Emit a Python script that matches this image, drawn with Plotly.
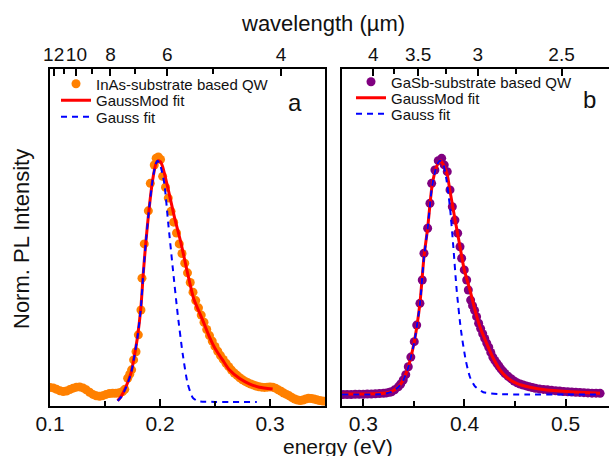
import plotly.graph_objects as go

# ---------------- Panel a: InAs-substrate based QW ----------------
energy_a = [0.100, 0.103, 0.106, 0.109, 0.112, 0.115, 0.118, 0.121, 0.124, 0.127,
            0.130, 0.133, 0.136, 0.139, 0.142, 0.145, 0.148, 0.151, 0.154, 0.157,
            0.160, 0.163, 0.166, 0.168, 0.1706, 0.1725, 0.1742, 0.176, 0.1782, 0.1803,
            0.1827, 0.1836, 0.1857, 0.1894, 0.1912, 0.1948, 0.1965, 0.1985, 0.2005, 0.2024,
            0.205, 0.2075, 0.210, 0.2124, 0.215, 0.2175, 0.220, 0.2225, 0.225, 0.2275,
            0.230, 0.2325, 0.235, 0.2375, 0.240, 0.2425, 0.245, 0.2475, 0.250, 0.2525,
            0.255, 0.2575, 0.260, 0.2625, 0.265, 0.2675, 0.270, 0.2725, 0.275, 0.2775,
            0.280, 0.2825, 0.285, 0.2875, 0.290, 0.2925, 0.295, 0.2975, 0.300, 0.3025,
            0.305, 0.3075, 0.310, 0.3125, 0.315, 0.3175, 0.320, 0.3225, 0.325, 0.3275,
            0.330, 0.3325, 0.335, 0.3375, 0.340, 0.3425, 0.345, 0.3475, 0.350]
pl_a = [0.060, 0.058, 0.052, 0.046, 0.043, 0.045, 0.051, 0.057, 0.061, 0.062,
        0.058, 0.050, 0.040, 0.031, 0.025, 0.023, 0.026, 0.031, 0.035, 0.036,
        0.036, 0.038, 0.043, 0.052, 0.098, 0.115, 0.133, 0.174, 0.208, 0.278,
        0.381, 0.513, 0.655, 0.792, 0.906, 0.982, 1.010, 1.015, 1.005, 0.935,
        0.890, 0.845, 0.790, 0.745, 0.700, 0.655, 0.615, 0.575, 0.535, 0.495,
        0.455, 0.420, 0.390, 0.360, 0.330, 0.300, 0.275, 0.252, 0.230, 0.210,
        0.192, 0.176, 0.160, 0.146, 0.132, 0.120, 0.110, 0.100, 0.092, 0.085,
        0.079, 0.074, 0.070, 0.066, 0.063, 0.061, 0.060, 0.061, 0.062, 0.061,
        0.057, 0.050, 0.044, 0.037, 0.031, 0.025, 0.018, 0.012, 0.008, 0.006,
        0.008, 0.012, 0.015, 0.014, 0.012, 0.009, 0.006, 0.004, 0.003]

gmod_e_a = [0.1615, 0.1650, 0.1691, 0.1736, 0.1766, 0.1796, 0.1827, 0.1848, 0.1873, 0.1903,
            0.1933, 0.1964, 0.1985, 0.2005, 0.2024, 0.2075, 0.2130, 0.2191, 0.2251, 0.2305,
            0.2387, 0.2448, 0.2509, 0.2569, 0.2630, 0.2721, 0.2812, 0.2903, 0.3024]
gmod_i_a = [0.005, 0.025, 0.063, 0.119, 0.188, 0.271, 0.395, 0.533, 0.671, 0.809,
            0.920, 0.989, 1.000, 0.995, 0.975, 0.880, 0.768, 0.658, 0.533, 0.430,
            0.340, 0.271, 0.215, 0.174, 0.133, 0.098, 0.075, 0.061, 0.053]

gauss_e_a = [0.1615, 0.1650, 0.1691, 0.1736, 0.1766, 0.1796, 0.1827, 0.1848, 0.1873, 0.1903,
             0.1933, 0.1960, 0.1978, 0.2000, 0.2039, 0.2075, 0.2115, 0.2160, 0.2206, 0.2251,
             0.2297, 0.2340, 0.2387, 0.2500, 0.2650, 0.2880]
gauss_i_a = [0.004, 0.022, 0.060, 0.117, 0.186, 0.270, 0.395, 0.533, 0.671, 0.809,
             0.920, 0.985, 1.000, 0.985, 0.906, 0.740, 0.560, 0.367, 0.200, 0.077,
             0.018, 0.004, 0.001, 0.000, 0.000, 0.000]

# ---------------- Panel b: GaSb-substrate based QW ----------------
energy_b = [0.280, 0.284, 0.288, 0.292, 0.296, 0.300, 0.304, 0.308, 0.312, 0.316,
            0.320, 0.323, 0.326, 0.328, 0.331, 0.3346, 0.337, 0.3395, 0.342, 0.3445,
            0.347, 0.3504, 0.3528, 0.356, 0.3583, 0.360, 0.3636, 0.3659, 0.3676, 0.3708,
            0.3741, 0.3775, 0.380, 0.383, 0.3857, 0.388, 0.3906, 0.3933, 0.3956, 0.3972,
            0.3998, 0.4022, 0.4038, 0.4061, 0.408, 0.410, 0.412, 0.414, 0.416, 0.418,
            0.420, 0.422, 0.424, 0.426, 0.428, 0.430, 0.432, 0.434, 0.436, 0.438,
            0.440, 0.443, 0.446, 0.449, 0.452, 0.455, 0.458, 0.461, 0.464, 0.467,
            0.470, 0.474, 0.478, 0.482, 0.486, 0.490, 0.494, 0.498, 0.502, 0.506,
            0.510, 0.514, 0.518, 0.522, 0.526, 0.530, 0.534]
pl_b = [0.000, 0.000, 0.000, 0.001, 0.001, 0.001, 0.002, 0.002, 0.003, 0.004,
        0.005, 0.007, 0.010, 0.012, 0.020, 0.033, 0.045, 0.062, 0.085, 0.119,
        0.160, 0.226, 0.297, 0.390, 0.490, 0.604, 0.711, 0.818, 0.903, 0.960,
        1.000, 1.010, 0.982, 0.953, 0.875, 0.803, 0.746, 0.690, 0.632, 0.583,
        0.533, 0.490, 0.447, 0.404, 0.380, 0.360, 0.333, 0.305, 0.282, 0.260,
        0.240, 0.220, 0.202, 0.180, 0.160, 0.146, 0.134, 0.122, 0.110, 0.100,
        0.090, 0.078, 0.068, 0.058, 0.050, 0.045, 0.041, 0.037, 0.033, 0.030,
        0.027, 0.024, 0.022, 0.020, 0.018, 0.016, 0.015, 0.013, 0.012, 0.011,
        0.010, 0.009, 0.008, 0.007, 0.006, 0.006, 0.005]

gmod_e_b = [0.2790, 0.3000, 0.3150, 0.3220, 0.3280, 0.3346, 0.3395, 0.3445, 0.3504, 0.3560,
            0.3600, 0.3636, 0.3676, 0.3710, 0.3741, 0.3765, 0.3800, 0.3830, 0.3857, 0.3906,
            0.3956, 0.3998, 0.4054, 0.4104, 0.4153, 0.4219, 0.4285, 0.4351, 0.4417, 0.4516,
            0.4647, 0.4812, 0.5042, 0.5339]
gmod_i_b = [0.002, 0.002, 0.004, 0.007, 0.013, 0.033, 0.062, 0.119, 0.226, 0.390,
            0.590, 0.711, 0.880, 0.955, 0.990, 1.000, 0.975, 0.940, 0.870, 0.750,
            0.632, 0.533, 0.447, 0.361, 0.290, 0.219, 0.155, 0.105, 0.074, 0.048,
            0.031, 0.019, 0.012, 0.005]

gauss_e_b = [0.2790, 0.3150, 0.3220, 0.3280, 0.3346, 0.3395, 0.3445, 0.3504, 0.3560, 0.3600,
             0.3636, 0.3676, 0.3710, 0.3741, 0.3760, 0.3790, 0.3820, 0.3857, 0.3890, 0.3923,
             0.3965, 0.4012, 0.4054, 0.4104, 0.4186, 0.4350, 0.4600, 0.5000, 0.5339]
gauss_i_b = [0.000, 0.001, 0.004, 0.011, 0.031, 0.060, 0.117, 0.224, 0.388, 0.588,
             0.709, 0.878, 0.955, 0.992, 1.000, 0.985, 0.925, 0.800, 0.632, 0.447,
             0.276, 0.148, 0.075, 0.035, 0.010, 0.002, 0.000, 0.000, 0.000]

# ---------------- Axis ticks ----------------
energy_ticks_a = [0.1, 0.2, 0.3]
energy_minor_a = [0.15, 0.25]
energy_ticks_b = [0.3, 0.4, 0.5]
energy_minor_b = [0.35, 0.45]
wl_major_a = [12, 10, 8, 6, 4]
wl_minor_a = [11, 9, 7, 5]
wl_major_b = [4, 3.5, 3, 2.5]
wl_minor_b = [3.75, 3.25, 2.75]
HC = 1.2398  # eV*um

FONT = "Liberation Sans, Arial, sans-serif"
INK = "#111111"
ORANGE = "#FF8000"
PURPLE = "#800080"
RED = "#FF0000"
BLUE = "#0000FF"

W, H = 609, 456
L, R, T, B = 50, 0, 69, 50
pw = W - L - R
ph = H - T - B


def px_x(p):
    return (p - L) / pw


def px_y(p):
    return (H - B - p) / ph


fig = go.Figure()

# panel a
fig.add_trace(go.Scatter(x=energy_a, y=pl_a, mode="markers", name="InAs-substrate based QW",
                         marker=dict(color=ORANGE, size=9), xaxis="x", yaxis="y", legend="legend"))
fig.add_trace(go.Scatter(x=gmod_e_a, y=gmod_i_a, mode="lines", name="GaussMod fit",
                         line=dict(color=RED, width=3, shape="spline", smoothing=0.6),
                         xaxis="x", yaxis="y", legend="legend2"))
fig.add_trace(go.Scatter(x=gauss_e_a, y=gauss_i_a, mode="lines", name="Gauss fit",
                         line=dict(color=BLUE, width=2, dash="6px,5px", shape="spline", smoothing=0.6),
                         xaxis="x", yaxis="y", legend="legend3"))
# panel b
fig.add_trace(go.Scatter(x=energy_b, y=pl_b, mode="markers", name="GaSb-substrate based QW",
                         marker=dict(color=PURPLE, size=9), xaxis="x2", yaxis="y2", legend="legend4"))
fig.add_trace(go.Scatter(x=gmod_e_b, y=gmod_i_b, mode="lines", name="GaussMod fit",
                         line=dict(color=RED, width=3, shape="spline", smoothing=0.6),
                         xaxis="x2", yaxis="y2", legend="legend5"))
fig.add_trace(go.Scatter(x=gauss_e_b, y=gauss_i_b, mode="lines", name="Gauss fit",
                         line=dict(color=BLUE, width=2, dash="6px,5px", shape="spline", smoothing=0.6),
                         xaxis="x2", yaxis="y2", legend="legend6"))
# invisible carriers so the top wavelength axes are drawn
fig.add_trace(go.Scatter(x=energy_a, y=pl_a, mode="markers", marker=dict(opacity=0),
                         xaxis="x3", yaxis="y", showlegend=False, hoverinfo="skip"))
fig.add_trace(go.Scatter(x=energy_b, y=pl_b, mode="markers", marker=dict(opacity=0),
                         xaxis="x4", yaxis="y2", showlegend=False, hoverinfo="skip"))

tickfont = dict(family=FONT, size=21, color=INK)
toptickfont = dict(family=FONT, size=19, color=INK)
common_x = dict(showgrid=False, zeroline=False, showline=True, linecolor="black", linewidth=2,
                mirror=True, ticks="inside", ticklen=7, tickwidth=1.5, tickcolor="black",
                tickfont=tickfont, automargin=False, tickangle=0, ticklabelstandoff=-2)
common_y = dict(showgrid=False, zeroline=False, showline=True, linecolor="black", linewidth=2,
                showticklabels=False, ticks="", domain=[0, 1], automargin=False)
top_x = dict(showgrid=False, zeroline=False, showline=False, ticks="inside", ticklen=7,
             tickwidth=1.5, tickcolor="black", tickfont=toptickfont, automargin=False,
             side="top", tickangle=0, ticklabelstandoff=3)

legend_font = dict(family=FONT, size=15, color=INK)


def leg(xp, yp):
    return dict(x=px_x(xp), y=px_y(yp), xanchor="left", yanchor="middle",
                bgcolor="rgba(0,0,0,0)", borderwidth=0, font=legend_font)


fig.update_layout(
    width=W, height=H, margin=dict(l=L, r=R, t=T, b=B, autoexpand=False),
    plot_bgcolor="white", paper_bgcolor="white",
    font=dict(family=FONT, color=INK),
    xaxis=dict(domain=[0, px_x(325)], range=[0.1, 0.35], anchor="y",
               tickvals=energy_ticks_a, ticktext=[f"{v:.1f}" for v in energy_ticks_a],
               minor=dict(tickvals=energy_minor_a, ticks="inside", ticklen=5, tickwidth=1.5,
                          tickcolor="black"),
               **common_x),
    yaxis=dict(range=[-0.017, 1.38], anchor="x", mirror=True, **common_y),
    xaxis2=dict(domain=[px_x(342), 1], range=[0.279, 0.5428], anchor="y2",
                tickvals=energy_ticks_b, ticktext=[f"{v:.1f}" for v in energy_ticks_b],
                minor=dict(tickvals=energy_minor_b, ticks="inside", ticklen=5, tickwidth=1.5,
                           tickcolor="black"),
                **common_x),
    yaxis2=dict(range=[-0.049, 1.392], anchor="x2", mirror=False, **common_y),
    xaxis3=dict(overlaying="x", anchor="y", range=[0.1, 0.35],
                tickvals=[HC / w for w in wl_major_a], ticktext=[f"{w:g}" for w in wl_major_a],
                minor=dict(tickvals=[HC / w for w in wl_minor_a], ticks="inside", ticklen=5,
                           tickwidth=1.5, tickcolor="black"),
                **top_x),
    xaxis4=dict(overlaying="x2", anchor="y2", range=[0.279, 0.5428],
                tickvals=[HC / w for w in wl_major_b], ticktext=[f"{w:g}" for w in wl_major_b],
                minor=dict(tickvals=[HC / w for w in wl_minor_b], ticks="inside", ticklen=5,
                           tickwidth=1.5, tickcolor="black"),
                **top_x),
    legend=leg(56, 84), legend2=leg(56, 100.5), legend3=leg(56, 117),
    legend4=leg(351, 82), legend5=leg(351, 98), legend6=leg(351, 114),
    showlegend=True,
)


def label(text, xp, yp, size=22, angle=0):
    fig.add_annotation(text=text, xref="paper", yref="paper", x=px_x(xp), y=px_y(yp),
                       xanchor="center", yanchor="middle", showarrow=False, textangle=angle,
                       font=dict(family=FONT, size=size, color=INK))


label("a", 295, 102, size=24)
label("b", 589, 100, size=24)
label("wavelength (µm)", 323, 24)
label("energy (eV)", 338, 446, size=21)
label("Norm. PL Intensity", 21, 239, angle=-90)

fig.write_html("out.html", config={"displayModeBar": False},
               post_script="document.body.style.margin='0px';")
